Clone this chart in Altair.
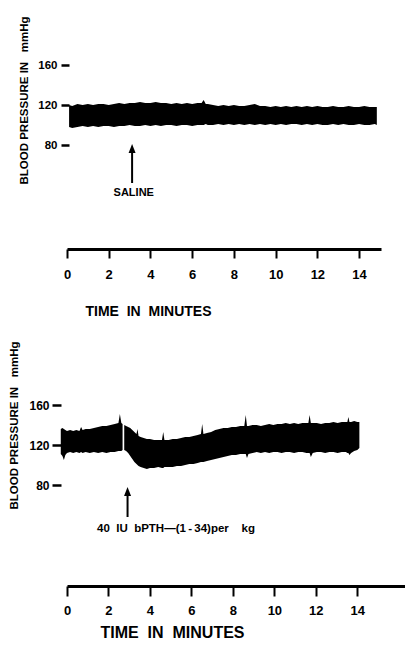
import altair as alt
import pandas as pd

FONT = "Liberation Sans"

# ---------------- data ----------------
top_time = [0.10, 0.25, 0.50, 0.75, 1.00, 1.25, 1.50, 1.75, 2.00, 2.25, 2.50, 2.75, 3.00,
            3.25, 3.50, 3.75, 4.00, 4.25, 4.50, 4.75, 5.00, 5.25, 5.50, 5.75, 6.00, 6.25,
            6.45, 6.55, 6.65,
            6.75, 7.00, 7.25, 7.50, 7.75, 8.00, 8.25, 8.50, 8.75, 9.00, 9.25, 9.50, 9.75,
            10.00, 10.25, 10.50, 10.75, 11.00, 11.25, 11.50, 11.75, 12.00, 12.25, 12.50,
            12.75, 13.00, 13.25, 13.50, 13.75, 14.00, 14.25, 14.50, 14.75,
            14.85]
top_upper = [120, 119, 121, 120, 121, 120, 121, 121, 120, 121, 122, 121, 122,
             122, 123, 122, 122, 123, 122, 122, 121, 122, 121, 122, 121, 122,
             122, 125, 121,
             121, 120, 119, 120, 119, 120, 119, 119, 120, 121, 119, 119, 118,
             119, 118, 119, 118, 119, 118, 119, 118, 119, 118, 118,
             119, 118, 118, 119, 118, 118, 119, 118, 118,
             118]
top_lower = [98, 97, 98, 99, 98, 99, 98, 99, 99, 98, 99, 99, 100,
             99, 99, 100, 99, 100, 99, 100, 100, 99, 100, 100, 99, 100,
             100, 100, 101,
             100, 100, 101, 100, 101, 100, 101, 100, 101, 100, 101, 100, 101,
             100, 101, 100, 101, 101, 100, 101, 100, 101, 100, 100,
             101, 100, 101, 100, 100, 101, 100, 100, 101,
             100]

bot_time = [-0.30, -0.22, -0.15, -0.08, 0.00, 0.15, 0.30, 0.45, 0.60, 0.68, 0.75, 0.90,
            1.10, 1.30, 1.50, 1.70, 1.90, 2.10, 2.30, 2.48, 2.55, 2.62, 2.68,
            2.76, 2.85, 2.95, 3.05, 3.15, 3.25, 3.35, 3.40, 3.45, 3.55, 3.70, 3.85,
            4.00, 4.20, 4.40, 4.58, 4.64, 4.70, 4.90, 5.10, 5.30, 5.50, 5.70, 5.90,
            6.10, 6.30, 6.46, 6.52, 6.58, 6.75, 6.95, 7.15, 7.35, 7.55, 7.75, 7.95,
            8.15, 8.35, 8.55, 8.62, 8.68, 8.75, 8.95, 9.15, 9.35, 9.55, 9.75, 9.95,
            10.15, 10.35, 10.55, 10.75, 10.95, 11.15, 11.35, 11.55, 11.64, 11.70, 11.76,
            11.85, 12.05, 12.25, 12.45, 12.65, 12.85, 13.05, 13.25, 13.45, 13.52, 13.57,
            13.62, 13.70, 13.85, 14.00, 14.10]
bot_upper = [136, 137, 136, 135, 134, 135, 134, 135, 134, 138, 135, 136,
             136, 137, 138, 139, 139, 140, 141, 142, 151, 142, 141,
             140, 139, 138, 137, 135, 133, 131, 136, 129, 128, 127, 126,
             126, 125, 125, 125, 133, 125, 125, 126, 126, 127, 128, 128,
             129, 130, 131, 141, 131, 132, 133, 135, 136, 137, 137, 138,
             138, 139, 139, 150, 139, 139, 140, 140, 139, 140, 141, 140,
             141, 141, 142, 141, 142, 141, 142, 142, 142, 150, 142,
             142, 142, 141, 142, 142, 143, 142, 143, 143, 143, 148,
             143, 143, 144, 143, 143]
bot_lower = [111, 109, 105, 110, 112, 113, 112, 113, 112, 113, 112, 113,
             112, 113, 112, 113, 112, 113, 113, 114, 114, 114, 115,
             115, 114, 112, 109, 106, 103, 101, 100, 99, 98, 97, 96,
             97, 97, 98, 97, 97, 98, 98, 98, 99, 99, 100, 101,
             101, 102, 103, 103, 103, 104, 105, 106, 107, 108, 109, 110,
             110, 111, 111, 111, 107, 111, 112, 113, 112, 113, 112, 113,
             113, 112, 113, 113, 112, 113, 113, 112, 112, 112, 108,
             112, 113, 113, 112, 113, 113, 112, 113, 113, 112, 112,
             110, 112, 114, 115, 117]
# trace is interrupted by a thin white gap just after the spike at ~2.7 min
bot_segment = [1] * 23 + [2] * (len(bot_time) - 23)

x_ticks = [0, 2, 4, 6, 8, 10, 12, 14]
y_ticks = [80, 120, 160]

y_title = "BLOOD\u00a0PRESSURE IN\u00a0\u00a0\u00a0mmHg"
x_title = "TIME\u00a0\u00a0IN\u00a0\u00a0MINUTES"
top_note = "SALINE"
bot_note = "40\u00a0\u00a0IU\u00a0\u00a0bPTH\u2014(1\u2009-\u200934)per\u00a0\u00a0\u00a0\u00a0kg"

# annotation placement (data units: minutes, mmHg)
top_arrow = dict(t=3.12, head=76.5, tip=77, tail=42)
top_label = dict(t=3.2, y=32.5)
bot_arrow = dict(t=2.92, head=73.5, tip=74, tail=48)
bot_label = dict(t=1.45, y=36)

ARROW_PATH = "M0,-1L0.78,1L-0.78,1Z"


def panel(trace, xdom, width, ydom, height, y_offset, y_tsize, y_lpad, y_lsize,
          ytx, yty, tsize, lpad, xtx, xty, xts, arrow, label, note, note_align, note_size):
    xs = alt.Scale(domain=xdom, nice=False, zero=False)
    ys = alt.Scale(domain=ydom, nice=False, zero=False)
    x_axis = alt.Axis(values=x_ticks, grid=False, domainWidth=3, domainColor="black",
                      tickColor="black", tickWidth=2, tickSize=tsize,
                      labelFont=FONT, labelFontSize=13, labelFontWeight="bold",
                      labelColor="black", labelPadding=lpad, labelFlush=False,
                      labelOverlap=False, title=x_title, titleFont=FONT,
                      titleFontSize=xts, titleFontWeight="bold", titleColor="black",
                      titleX=xtx, titleY=xty, titleAlign="center", titleBaseline="middle")
    y_axis = alt.Axis(values=y_ticks, grid=False, domain=False, offset=y_offset,
                      tickColor="black", tickWidth=2.5, tickSize=y_tsize,
                      labelFont=FONT, labelFontSize=y_lsize, labelFontWeight="bold",
                      labelColor="black", labelPadding=y_lpad, labelFlush=False,
                      title=y_title, titleFont=FONT, titleFontSize=11.5,
                      titleFontWeight="bold", titleColor="black", titleAngle=270,
                      titleX=ytx, titleY=yty, titleAlign="center", titleBaseline="middle")
    area = alt.Chart(trace).mark_area(color="black", interpolate="linear").encode(
        x=alt.X("t:Q", scale=xs, axis=x_axis),
        y=alt.Y("upper:Q", scale=ys, axis=y_axis),
        y2="lower:Q",
        detail="seg:N",
    )
    adf = pd.DataFrame([arrow])
    shaft = alt.Chart(adf).mark_rule(color="black", strokeWidth=2).encode(
        x="t:Q", y="tip:Q", y2="tail:Q")
    head = alt.Chart(adf).mark_point(shape=ARROW_PATH, filled=True, size=81,
                                     color="black", opacity=1).encode(
        x="t:Q", y="head:Q")
    ldf = pd.DataFrame([dict(label, text=note)])
    text = alt.Chart(ldf).mark_text(font=FONT, fontSize=note_size, fontWeight="bold",
                                    color="black", align=note_align,
                                    baseline="middle").encode(
        x="t:Q", y="y:Q", text="text:N")
    return alt.layer(area, shaft, head, text).properties(width=width, height=height)


top_df = pd.DataFrame({"t": top_time, "upper": top_upper, "lower": top_lower,
                       "seg": [1] * len(top_time)})
bot_df = pd.DataFrame({"t": bot_time, "upper": bot_upper, "lower": bot_lower,
                       "seg": bot_segment})

top = panel(top_df, [0, 15.05], 314, [-24, 217], 241, -2, 8, 4, 11.5,
            -45, 92, 9, 10, 81, 62, 14, top_arrow, top_label, top_note, "center", 11)
bot = panel(bot_df, [0, 16.3], 338, [-21, 245], 266, 6, 9, 3, 12,
            -47, 105, 10, 8, 105, 46, 16, bot_arrow, bot_label, bot_note, "left", 11.5)

chart = alt.vconcat(top, bot, spacing=71, bounds="flush").properties(
    padding=0, background="white"
).configure_view(stroke=None)

chart.save("out.html", embed_options={"renderer": "svg", "actions": False})
